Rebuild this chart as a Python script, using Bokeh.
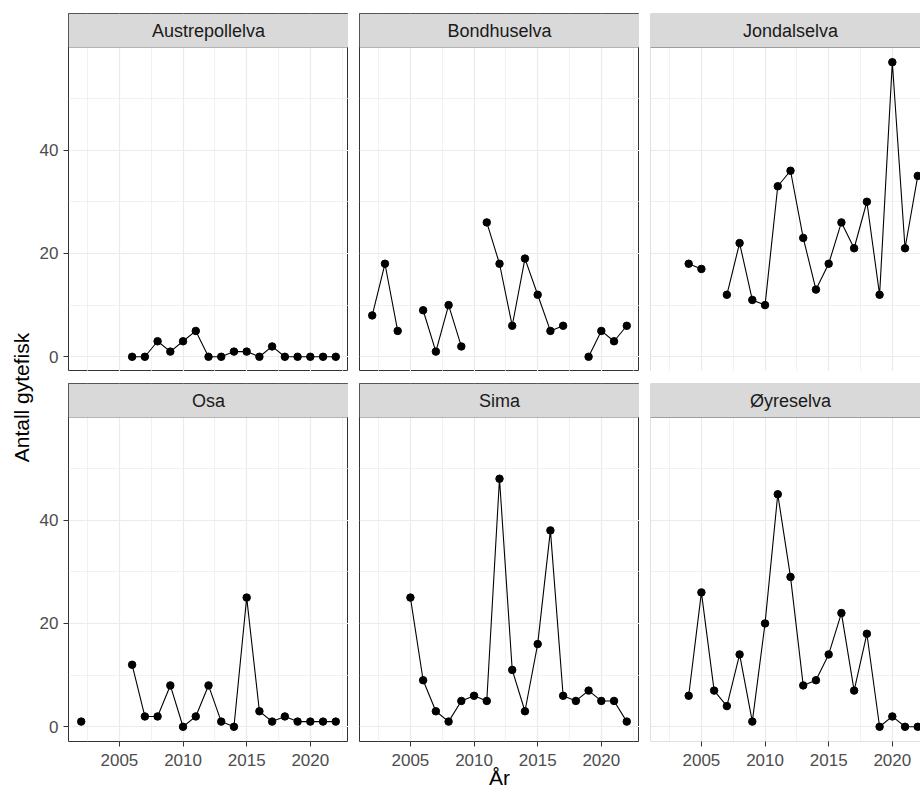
import math
from bokeh.plotting import figure
from bokeh.models import Range1d, FixedTicker, BoxAnnotation, Label, ColumnDataSource
from bokeh.layouts import row, column
from bokeh.embed import file_html
from bokeh.resources import INLINE

nan = float("nan")

# ---- data ----
years = [2002, 2003, 2004, 2005, 2006, 2007, 2008, 2009, 2010, 2011, 2012,
         2013, 2014, 2015, 2016, 2017, 2018, 2019, 2020, 2021, 2022]
austrepollelva = [nan, nan, nan, nan, 0, 0, 3, 1, 3, 5, 0, 0, 1, 1, 0, 2, 0, 0, 0, 0, 0]
bondhuselva = [8, 18, 5, nan, 9, 1, 10, 2, nan, 26, 18, 6, 19, 12, 5, 6, nan, 0, 5, 3, 6]
jondalselva = [nan, nan, 18, 17, nan, 12, 22, 11, 10, 33, 36, 23, 13, 18, 26, 21, 30, 12, 57, 21, 35]
osa = [1, nan, nan, nan, 12, 2, 2, 8, 0, 2, 8, 1, 0, 25, 3, 1, 2, 1, 1, 1, 1]
sima = [nan, nan, nan, 25, 9, 3, 1, 5, 6, 5, 48, 11, 3, 16, 38, 6, 5, 7, 5, 5, 1]
oyreselva = [nan, nan, 6, 26, 7, 4, 14, 1, 20, 45, 29, 8, 9, 14, 22, 7, 18, 0, 2, 0, 0]

panel_names = ["Austrepollelva", "Bondhuselva", "Jondalselva", "Osa", "Sima", "Øyreselva"]
panel_values = [austrepollelva, bondhuselva, jondalselva, osa, sima, oyreselva]

x_ticks = [2005, 2010, 2015, 2020]
x_minor = [2002.5, 2007.5, 2012.5, 2017.5, 2022.5]
y_ticks = [0, 20, 40]
y_minor = [10, 30, 50]

x_title = "År"
y_title = "Antall gytefisk"

# ---- scales (ggplot style 5% expansion) ----
all_vals = [v for vals in panel_values for v in vals if not math.isnan(v)]
xs_span = max(years) - min(years)
X_LO, X_HI = min(years) - 0.05 * xs_span, max(years) + 0.05 * xs_span
ys_span = max(all_vals) - min(all_vals)
Y_LO, Y_HI = min(all_vals) - 0.05 * ys_span, max(all_vals) + 0.05 * ys_span

# ---- layout constants ----
FONT = "Liberation Sans"
PANEL_W = 280
PANEL_H = 324
STRIP_H = 34
GAP = 11
LEFT_AX = 32
TOP_PAD = 13
ROW_GAP = 12
BOTTOM_AX = 50
YT_W = 36
TOTAL_H = TOP_PAD + 2 * (PANEL_H + STRIP_H) + ROW_GAP + BOTTOM_AX
LAST_W = 270
PX_PER_Y = PANEL_H / (Y_HI - Y_LO)


def style_axis(ax):
    ax.axis_line_color = None
    ax.major_tick_line_color = "#333333"
    ax.major_tick_out = 5
    ax.major_tick_in = 0
    ax.minor_tick_out = 0
    ax.minor_tick_in = 0
    ax.major_label_text_font = FONT
    ax.major_label_text_font_size = "17px"
    ax.major_label_text_color = "#4D4D4D"


def make_panel(name, vals, r, c):
    fw = PANEL_W if c < 2 else LAST_W
    x_end = X_LO + (X_HI - X_LO) * fw / PANEL_W
    y_end = Y_HI + STRIP_H / PX_PER_Y
    p = figure(frame_width=fw, frame_height=PANEL_H + STRIP_H,
               x_range=Range1d(X_LO, x_end), y_range=Range1d(Y_LO, y_end),
               x_axis_location="below" if r == 1 else None,
               y_axis_location="left" if c == 0 else None,
               min_border_left=LEFT_AX if c == 0 else GAP,
               min_border_right=0,
               min_border_top=TOP_PAD if r == 0 else ROW_GAP,
               min_border_bottom=BOTTOM_AX if r == 1 else 0,
               output_backend="svg", toolbar_location=None)
    p.background_fill_color = "white"
    p.border_fill_color = "white"

    p.xgrid.ticker = FixedTicker(ticks=x_ticks, minor_ticks=x_minor)
    p.ygrid.ticker = FixedTicker(ticks=y_ticks, minor_ticks=y_minor)
    for g in list(p.xgrid) + list(p.ygrid):
        g.grid_line_color = "#EBEBEB"
        g.grid_line_width = 1.2
        g.minor_grid_line_color = "#EBEBEB"
        g.minor_grid_line_width = 0.7

    if r == 1:
        ax = p.xaxis[0]
        ax.ticker = FixedTicker(ticks=x_ticks)
        style_axis(ax)
        ax.major_label_standoff = 7
        if c == 1:
            ax.axis_label = x_title
            ax.axis_label_text_font = FONT
            ax.axis_label_text_font_size = "21px"
            ax.axis_label_text_font_style = "normal"
            ax.axis_label_text_color = "black"
            ax.axis_label_standoff = -3
    if c == 0:
        ax = p.yaxis[0]
        ax.ticker = FixedTicker(ticks=y_ticks)
        style_axis(ax)
        ax.major_label_standoff = 5

    src = ColumnDataSource(dict(x=years, y=vals))
    p.line("x", "y", source=src, line_color="black", line_width=1.1)
    p.scatter("x", "y", source=src, size=7.5, fill_color="black", line_color="black")

    if c < 2:
        p.outline_line_color = "#333333"
        p.outline_line_width = 1
    else:
        p.outline_line_color = None
        p.add_layout(BoxAnnotation(bottom=Y_LO, top=Y_HI, left=X_LO, right=X_HI,
                                   fill_alpha=0, line_color="#333333", line_width=1))

    p.add_layout(BoxAnnotation(bottom=Y_HI, top=y_end, left=X_LO, right=X_HI,
                               fill_color="#D9D9D9", fill_alpha=1,
                               line_color="#333333", line_width=1))
    p.add_layout(Label(x=(X_LO + X_HI) / 2, y=(Y_HI + y_end) / 2, text=name,
                       text_align="center", text_baseline="middle",
                       text_font=FONT, text_font_size="18px", text_color="#1A1A1A"))
    return p


panels = [make_panel(n, v, i // 3, i % 3) for i, (n, v) in enumerate(zip(panel_names, panel_values))]

yt = figure(frame_width=YT_W, frame_height=TOTAL_H,
            x_range=Range1d(0, YT_W), y_range=Range1d(TOTAL_H, 0),
            x_axis_location=None, y_axis_location=None, min_border=0,
            output_backend="svg", toolbar_location=None)
yt.outline_line_color = None
yt.xgrid.visible = False
yt.ygrid.visible = False
yt.add_layout(Label(x=21, y=397, text=y_title, angle=90, angle_units="deg",
                    text_align="center", text_baseline="middle",
                    text_font=FONT, text_font_size="21px", text_color="black"))

layout = row(yt, column(row(*panels[:3]), row(*panels[3:])))

open("out.html", "w").write(file_html(layout, INLINE))
